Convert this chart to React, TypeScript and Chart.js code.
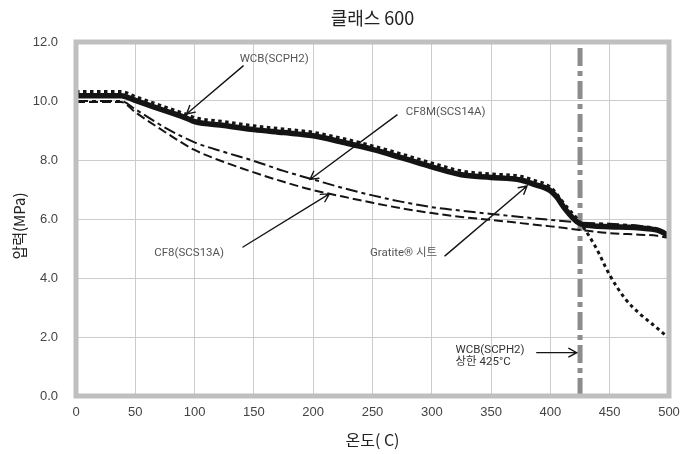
import { useEffect, useRef } from 'react';
import { Chart, registerables } from 'chart.js';

Chart.register(...registerables);

// ---- text ----
const TITLE = '클래스 600';
const X_TITLE = '온도( C)';
const Y_TITLE = '압력(MPa)';

// ---- axes ----
const X_MIN = 0;
const X_MAX = 500;
const X_STEP = 50;
const Y_MIN = 0;
const Y_MAX = 12;
const Y_STEP = 2;

// ---- series (temperature °C, pressure MPa) ----
const WCB_TEMPS = [0, 38, 50, 75, 93, 100, 125, 150, 175, 200, 225, 250, 275, 300, 325, 350, 375, 385, 400, 413, 425, 438, 450, 463, 475, 487, 500];
const WCB_MPA = [10.32, 10.32, 10.15, 9.8, 9.55, 9.44, 9.3, 9.16, 9.05, 8.94, 8.73, 8.48, 8.2, 7.9, 7.63, 7.53, 7.45, 7.33, 7.08, 6.45, 5.88, 5.06, 4.1, 3.3, 2.8, 2.4, 1.96];

const GRATITE_TEMPS = [0, 38, 50, 75, 93, 100, 125, 150, 175, 200, 225, 250, 275, 300, 325, 350, 375, 385, 400, 405, 413, 422, 428, 450, 480, 492, 500];
const GRATITE_MPA = [10.18, 10.18, 10.02, 9.67, 9.42, 9.3, 9.17, 9.03, 8.93, 8.82, 8.6, 8.36, 8.07, 7.77, 7.5, 7.41, 7.32, 7.19, 6.96, 6.76, 6.31, 5.92, 5.8, 5.74, 5.68, 5.6, 5.42];

const CF8M_TEMPS = [0, 38, 50, 75, 100, 125, 150, 175, 200, 225, 250, 275, 300, 325, 350, 375, 400, 425, 450, 475, 490, 500];
const CF8M_MPA = [10.0, 10.0, 9.72, 9.1, 8.6, 8.27, 7.97, 7.63, 7.34, 7.05, 6.8, 6.58, 6.4, 6.28, 6.17, 6.07, 5.97, 5.88, 5.84, 5.77, 5.68, 5.48];

const CF8_TEMPS = [0, 38, 50, 75, 100, 125, 150, 175, 200, 225, 250, 275, 300, 325, 350, 375, 400, 425, 450, 475, 490, 500];
const CF8_MPA = [9.97, 9.97, 9.62, 8.95, 8.34, 7.93, 7.58, 7.26, 6.98, 6.76, 6.55, 6.36, 6.2, 6.07, 5.97, 5.86, 5.75, 5.63, 5.52, 5.47, 5.43, 5.35];

// WCB upper temperature limit
const LIMIT_TEMP = 425;

// ---- annotations (positions in data units) ----
const NOTE_TEXTS = ['WCB(SCPH2)', 'CF8M(SCS14A)', 'CF8(SCS13A)', 'Gratite® 시트', 'WCB(SCPH2)', '상한 425°C'];
const NOTE_T = [138, 278, 66, 304.5, 320, 320];
const NOTE_V = [11.42, 9.63, 4.84, 4.85, 1.57, 1.15];
const NOTE_ALIGN: CanvasTextAlign[] = ['left', 'left', 'left', 'right', 'left', 'left'];
const NOTE_COLOR = ['#555', '#555', '#555', '#555', '#333', '#333'];

const ARROW_FROM_T = [141, 270.7, 140.8, 311.1, 388.5];
const ARROW_FROM_V = [11.19, 9.53, 5.05, 4.75, 1.47];
const ARROW_TO_T = [93.2, 197.3, 213.6, 380.3, 422.2];
const ARROW_TO_V = [9.56, 7.34, 6.85, 7.12, 1.47];

const zip = (xs: number[], ys: number[]) => xs.map((x, i) => ({ x, y: ys[i] }));

const FONT_LATIN = 'Roboto, "Noto Sans CJK KR", sans-serif';
const FONT_KR = '"Noto Sans CJK KR", sans-serif';

const decorPlugin = {
  id: 'decor',
  afterDatasetsDraw(chart: any) {
    const { ctx, chartArea: a } = chart;
    ctx.save();
    ctx.strokeStyle = '#bfbfbf';
    ctx.lineWidth = 5;
    ctx.strokeRect(a.left, a.top, a.right - a.left, a.bottom - a.top);
    ctx.restore();
  },
  afterDraw(chart: any) {
    const { ctx, chartArea: a } = chart;
    const xs = chart.scales.x;
    const ys = chart.scales.y;
    ctx.save();
    // y-axis title
    ctx.fillStyle = '#222';
    ctx.font = `15px ${FONT_KR}`;
    ctx.textAlign = 'center';
    ctx.textBaseline = 'middle';
    ctx.translate(19, (a.top + a.bottom) / 2 + 7);
    ctx.rotate(-Math.PI / 2);
    ctx.fillText(Y_TITLE, 0, 0);
    ctx.restore();

    // labels
    ctx.save();
    ctx.font = `11.5px ${FONT_LATIN}`;
    ctx.textBaseline = 'middle';
    NOTE_TEXTS.forEach((t, i) => {
      ctx.fillStyle = NOTE_COLOR[i];
      ctx.textAlign = NOTE_ALIGN[i];
      ctx.fillText(t, xs.getPixelForValue(NOTE_T[i]), ys.getPixelForValue(NOTE_V[i]));
    });
    // arrows
    ctx.strokeStyle = '#151515';
    ctx.lineWidth = 1.4;
    ctx.lineCap = 'round';
    ARROW_FROM_T.forEach((_, i) => {
      const x1 = xs.getPixelForValue(ARROW_FROM_T[i]);
      const y1 = ys.getPixelForValue(ARROW_FROM_V[i]);
      const x2 = xs.getPixelForValue(ARROW_TO_T[i]);
      const y2 = ys.getPixelForValue(ARROW_TO_V[i]);
      const ang = Math.atan2(y2 - y1, x2 - x1);
      const L = 9;
      const h = 0.5;
      ctx.beginPath();
      ctx.moveTo(x1, y1);
      ctx.lineTo(x2, y2);
      ctx.moveTo(x2 - L * Math.cos(ang - h), y2 - L * Math.sin(ang - h));
      ctx.lineTo(x2, y2);
      ctx.lineTo(x2 - L * Math.cos(ang + h), y2 - L * Math.sin(ang + h));
      ctx.stroke();
    });
    ctx.restore();
  },
};

export default function App() {
  const ref = useRef<HTMLCanvasElement>(null);
  useEffect(() => {
    if (!ref.current) return;
    const chart = new Chart(ref.current, {
      type: 'line',
      data: {
        datasets: [
          {
            label: 'Gratite® 시트',
            data: zip(GRATITE_TEMPS, GRATITE_MPA),
            borderColor: '#141414',
            borderWidth: 5.5,
            pointRadius: 0,
            cubicInterpolationMode: 'monotone',
            borderJoinStyle: 'round',
            order: 1,
          },
          {
            label: 'WCB(SCPH2)',
            data: zip(WCB_TEMPS, WCB_MPA),
            borderColor: '#141414',
            borderWidth: 3,
            borderDash: [3.5, 3.5],
            pointRadius: 0,
            cubicInterpolationMode: 'monotone',
            order: 2,
          },
          {
            label: 'CF8M(SCS14A)',
            data: zip(CF8M_TEMPS, CF8M_MPA),
            borderColor: '#141414',
            borderWidth: 2,
            borderDash: [12, 4, 4, 4],
            pointRadius: 0,
            cubicInterpolationMode: 'monotone',
            order: 3,
          },
          {
            label: 'CF8(SCS13A)',
            data: zip(CF8_TEMPS, CF8_MPA),
            borderColor: '#141414',
            borderWidth: 2,
            borderDash: [9, 4],
            pointRadius: 0,
            cubicInterpolationMode: 'monotone',
            order: 4,
          },
          {
            label: 'limit',
            data: [
              { x: LIMIT_TEMP, y: Y_MIN },
              { x: LIMIT_TEMP, y: Y_MAX },
            ],
            borderColor: '#8c8c8c',
            borderWidth: 5,
            borderDash: [18, 5, 5, 5],
            pointRadius: 0,
            order: 5,
          },
        ],
      },
      options: {
        responsive: false,
        animation: false,
        events: [],
        layout: { padding: { left: 0, right: 13, top: 0, bottom: 0 } },
        plugins: {
          legend: { display: false },
          tooltip: { enabled: false },
          title: {
            display: true,
            text: TITLE,
            fullSize: false,
            color: '#222',
            font: { family: FONT_KR, size: 18, weight: 'normal', lineHeight: 1.2 },
            padding: { top: 7, bottom: 13.4 },
          },
        },
        scales: {
          x: {
            type: 'linear',
            min: X_MIN,
            max: X_MAX,
            ticks: {
              stepSize: X_STEP,
              color: '#444',
              font: { family: '"Liberation Sans", Arial, sans-serif', size: 13 },
              padding: 9,
              maxRotation: 0,
            },
            grid: { color: '#cccccc', lineWidth: 1, drawTicks: false },
            border: { display: false },
            title: {
              display: true,
              text: X_TITLE,
              color: '#222',
              font: { family: FONT_KR, size: 16, lineHeight: 1.2 },
              padding: { top: 0, bottom: 4 },
            },
            afterFit: (s: any) => {
              s.height = 58;
              s.paddingLeft = 0;
              s.paddingRight = 0;
            },
          },
          y: {
            type: 'linear',
            min: Y_MIN,
            max: Y_MAX,
            ticks: {
              stepSize: Y_STEP,
              color: '#444',
              font: { family: '"Liberation Sans", Arial, sans-serif', size: 13 },
              padding: 18,
              callback: (v: any) => Number(v).toFixed(1),
            },
            grid: { color: '#cccccc', lineWidth: 1, drawTicks: false },
            border: { display: false },
            afterFit: (s: any) => {
              s.width = 76;
              s.paddingTop = 0;
              s.paddingBottom = 0;
            },
          },
        },
      },
      plugins: [decorPlugin],
    } as any);
    return () => chart.destroy();
  }, []);

  return (
    <div style={{ position: 'fixed', left: 0, top: 0, width: 682, height: 454, background: '#fff' }}>
      <canvas ref={ref} width={682} height={454} style={{ display: 'block', width: 682, height: 454 }} />
    </div>
  );
}
